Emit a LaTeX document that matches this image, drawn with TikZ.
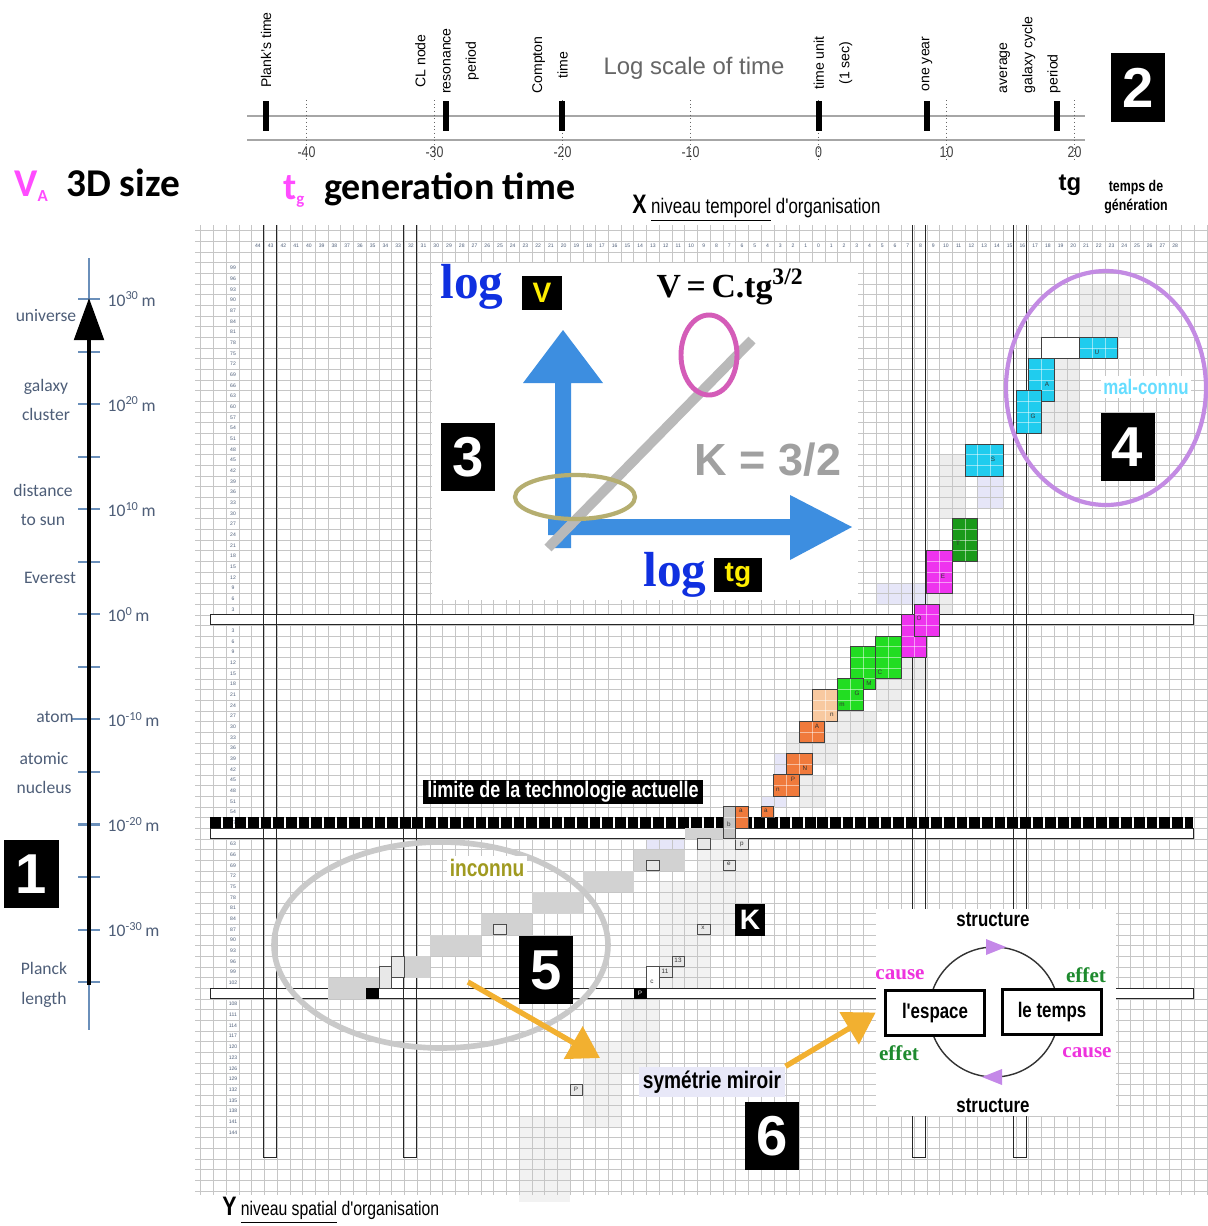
\documentclass[tikz,border=0pt]{standalone}
\usepackage{fontspec}
\setmainfont{Liberation Serif}
\setsansfont{Liberation Sans}
\newfontfamily\narrowsf[FakeStretch=0.8]{Liberation Sans}
\newfontfamily\calsf{Carlito}
\usetikzlibrary{arrows.meta,positioning,calc}

\definecolor{gridgray}{HTML}{C6C6C6}
\definecolor{axisblue}{HTML}{6A8FBA}
\definecolor{slate}{HTML}{4E5E78}
\definecolor{arrowblue}{HTML}{3D8EE0}
\definecolor{pinkish}{HTML}{FF4CFF}
\definecolor{cyanblk}{HTML}{20CCEE}
\definecolor{greenblk}{HTML}{22DD22}
\definecolor{darkgreen}{HTML}{1A9A1A}
\definecolor{magblk}{HTML}{EE33EE}
\definecolor{orangeblk}{HTML}{F07A3C}
\definecolor{peachblk}{HTML}{F8C9A0}
\definecolor{shade}{HTML}{EDEDED}
\definecolor{faintshade}{HTML}{F2F2F2}
\definecolor{lavshade}{HTML}{E6E6F8}
\definecolor{stepgray}{HTML}{D2D2D2}
\definecolor{ringlav}{HTML}{C38BE3}
\definecolor{ringgray}{HTML}{C9C9C9}
\definecolor{ringmag}{HTML}{D45CB8}
\definecolor{ringolive}{HTML}{B5AE70}
\definecolor{amber}{HTML}{F2B030}
\definecolor{olivetext}{HTML}{A09A20}
\definecolor{maltext}{HTML}{66DDFF}
\definecolor{causemag}{HTML}{EE33DD}
\definecolor{effetgreen}{HTML}{1E8A2E}
\definecolor{cyclelav}{HTML}{C488E8}
\definecolor{mirrorbg}{HTML}{E8E8F8}
\definecolor{logblue}{HTML}{1030E0}
\definecolor{varyellow}{HTML}{FFEE00}
\definecolor{kgray}{HTML}{A0A0A0}

% one rectangle of cells of the grid: column k, row m, number of columns, rows
\newcommand{\cellrect}[5][]{%
  \path[#1] ({812.13+12.74*(#2)},{262.67+10.67*(#3)}) rectangle ++({12.74*(#4)},{10.67*(#5)});}
% coloured block with its cell lines
\newcommand{\cellblock}[5]{%
  \cellrect[fill=#1]{#2}{#3}{#4}{#5}
  \foreach \ci in {1,...,#4}{\draw[cellsep] ({812.13+12.74*(#2+\ci)},{262.67+10.67*(#3)}) -- ++(0,{10.67*(#5)});}
  \foreach \cj in {1,...,#5}{\draw[cellsep] ({812.13+12.74*(#2)},{262.67+10.67*(#3+\cj)}) -- ++({12.74*(#4)},0);}
  \cellrect[draw=black!75,line width=0.6pt]{#2}{#3}{#4}{#5}}

\begin{document}
\begin{tikzpicture}[x=0.025cm,y=-0.025cm,
    numbox/.style={fill=black,text=white,inner sep=0pt,minimum width=1.35cm,minimum height=1.7cm,
                   font=\sffamily\bfseries\fontsize{40}{40}\selectfont},
    rotlab/.style={rotate=90,align=center,inner sep=1pt,font=\sffamily\fontsize{10}{18}\selectfont},
    timeline/.style={black!35,line width=1.1pt},
    timebar/.style={line width=3.6pt},
    timedot/.style={black!60,dotted,line width=0.6pt},
    ticklab/.style={font=\narrowsf\fontsize{11}{12}\selectfont,text=black!75},
    axtick/.style={axisblue,line width=1.5pt},
    unitlab/.style={anchor=west,inner sep=1pt,font=\calsf\fontsize{12.5}{14}\selectfont,text=slate},
    objlab/.style={align=center,inner sep=1pt,font=\calsf\fontsize{12.5}{21}\selectfont,text=slate},
    gridline/.style={gridgray,line width=0.4pt},
    gridnum/.style={inner sep=0pt,font=\sffamily\fontsize{3.6}{4}\selectfont,text=slate},
    bandline/.style={black!85,line width=0.7pt},
    cellsep/.style={white,opacity=0.5,line width=0.5pt},
    smallcell/.style={draw=black!70,line width=0.6pt,fill=stepgray!50},
    blocklab/.style={inner sep=0pt,font=\sffamily\fontsize{4.5}{5}\selectfont,text=black!80},
    ring/.style={line width=3.5pt},
    amberarr/.style={amber,line width=3.8pt,-{Triangle[length=22pt,width=26pt]}},
    placebox/.style={draw=black,line width=2pt,fill=white,minimum width=2.47cm,minimum height=1.12cm,
                     font=\narrowsf\bfseries\fontsize{15}{15}\selectfont},
    causelab/.style={font=\rmfamily\bfseries\fontsize{15}{15}\selectfont,text=causemag,inner sep=1pt},
    effetlab/.style={font=\rmfamily\bfseries\fontsize{15}{15}\selectfont,text=effetgreen,inner sep=1pt},
    structlab/.style={font=\narrowsf\bfseries\fontsize{15}{15}\selectfont,inner sep=1pt},
    logword/.style={font=\rmfamily\bfseries\fontsize{35}{35}\selectfont,text=logblue,inner sep=0pt},
    varbox/.style={fill=black,text=varyellow,inner sep=0pt,font=\sffamily\bfseries\fontsize{20}{20}\selectfont}
]
\useasboundingbox (0,0) rectangle (1208,1226);
\fill[white] (0,0) rectangle (1208,1226);

%% log scale of time
\draw[timeline] (247,116) -- (1085,116);
\draw[timeline] (247,140) -- (1085,140);
\foreach \t/\lab in {-4/-40,-3/-30,-2/-20,-1/-10,0/0,1/10,2/20}{
  \draw[timedot] ({818.5+128*\t},100) -- ({818.5+128*\t},162);
  \node[ticklab] (tick\t) at ({818.5+128*\t},152) {\lab};
}
\foreach \bx in {266,446,562,819,927,1057} \draw[timebar] (\bx,101) -- (\bx,131);
\node[rotlab] (plank) at (266,50) {Plank's time};
\node[rotlab] (clnode) at (447,61) {CL node\\resonance\\period};
\node[rotlab] (compton) at (550,65) {Compton\\time};
\node[rotlab] (timeunit) at (833,63) {time unit\\(1 sec)};
\node[rotlab] (oneyear) at (927,64) {one year};
\node[rotlab,align=left,anchor=west] (galaxy) at (1030,95) {average\\galaxy cycle\\period};
\node[font=\sffamily\fontsize{17}{17}\selectfont,text=black!60] (logscale) at (694,68) {Log scale of time};
\node[numbox] (nb2) at (1138,87.5) {2};

%% headings
\node[anchor=west,inner sep=0pt,font=\calsf\bfseries\fontsize{28}{28}\selectfont] (vsize) at (14,185)
  {\textcolor{pinkish}{V\textsubscript{\fontsize{12}{12}\selectfont A}}\hspace{0.45em}3D size};
\node[anchor=west,inner sep=0pt,font=\calsf\bfseries\fontsize{27}{27}\selectfont] (tgen) at (283,190)
  {\textcolor{pinkish}{t\textsubscript{\fontsize{12}{12}\selectfont g}}\hspace{0.5em}generation time};
\node[anchor=west,inner sep=0pt,font=\narrowsf\fontsize{15}{15}\selectfont] (xlabel) at (632,208)
  {{\bfseries\fontsize{19}{19}\selectfont X}\ \underline{niveau temporel} d'organisation};
\node[font=\sffamily\bfseries\fontsize{17}{17}\selectfont] (tglab) at (1070,185) {tg};
\node[align=center,font=\narrowsf\bfseries\fontsize{11}{14}\selectfont] (tempsgen) at (1136,197) {temps de\\génération};

%% size axis
\draw[axisblue,line width=1pt] (89,258) -- (89,1030);
\foreach \i in {0,...,13} \draw[axtick] (78,{299+52.55*\i}) -- (100,{299+52.55*\i});
\draw[axtick] (72,719) -- (78,719);
\draw[line width=2.8pt,-{Triangle[length=30pt,width=21pt]}] (89,985) -- (89,298);
\foreach \i/\e in {0/30,2/20,4/10,6/0,8/-10,10/-20,12/-30}
  \node[unitlab] (unit\i) at (106,{299+52.55*\i}) {10\textsuperscript{\e}\,m};
\node[objlab] (universe) at (46,316) {universe};
\node[objlab] (galaxycl) at (46,400) {galaxy\\cluster};
\node[objlab] (sundist) at (43,505) {distance\\to sun};
\node[objlab] (everest) at (50,578) {Everest};
\node[objlab] (atom) at (55,717) {atom};
\node[objlab] (nucleus) at (44,773) {atomic\\nucleus};
\node[objlab] (planck) at (44,985) {Planck\\length};
\node[numbox] (nb1) at (31.5,874) {1};

%% shading along the diagonal
\cellrect[fill=shade]{21}{2}{4}{5}
\cellrect[fill=shade]{18}{9}{3}{7}
\cellrect[fill=lavshade]{13}{20}{2}{3}
\cellrect[fill=shade]{10}{18}{2}{6}
\cellrect[fill=shade]{9}{31}{2}{3}
\cellrect[fill=lavshade]{5}{30}{4}{2}
\cellrect[fill=shade]{7}{37}{2}{3}
\cellrect[fill=shade]{5}{39}{2}{3}
\cellrect[fill=shade]{2}{42}{3}{3}
\cellrect[fill=shade]{0}{43}{2}{4}
\cellrect[fill=shade]{-2}{44}{2}{2}
\cellrect[fill=lavshade]{-3}{46}{1}{2}
\cellrect[fill=shade]{-1}{48}{2}{3}
\cellrect[fill=lavshade]{-4}{50}{2}{1}
\cellrect[fill=faintshade]{-9}{54}{4}{9}
\cellrect[fill=faintshade]{-12}{58}{4}{10}
\cellrect[fill=lavshade]{-13}{54}{3}{1}
\cellrect[fill=faintshade]{-15}{68}{3}{8}
\cellrect[fill=faintshade]{-18}{73}{3}{8}
\cellrect[fill=faintshade]{-23}{80}{4}{8}

%% grid
\begin{scope}
\clip (195,225) rectangle (1208,1195);
\foreach \k in {-50,...,31} \draw[gridline] ({812.13+12.74*\k},225) -- ++(0,970);
\foreach \m in {-4,...,87} \draw[gridline] (195,{262.67+10.67*\m}) -- ++(1013,0);
\end{scope}
\foreach \k [evaluate=\k as \lab using int(abs(\k))] in {-44,...,28}
  \node[gridnum] (cn\k) at ({818.5+12.74*\k},246) {\lab};
\foreach \n [evaluate=\n as \lab using int(abs(99-3*\n))] in {0,...,81}
  \node[gridnum] (rn\n) at (233,{268+10.67*\n}) {\lab};

%% limits of the grid
\foreach \ya in {614,828,988} \draw[bandline,fill=white] (210,\ya) rectangle (1193,\ya+10);
\foreach \xa in {263,403,912,1013} \draw[bandline] (\xa,225) -- (\xa,1157) -- ({\xa+13},1157) -- ({\xa+13},225);
\draw[line width=7.5pt,dash pattern=on 7.6pt off 1.4pt] (210,822.5) -- (1193,822.5);

%% steps below the limit
\cellrect[fill=stepgray]{-10}{53}{3}{1}
\cellrect[fill=stepgray]{-14}{55}{4}{2}
\cellrect[fill=stepgray]{-18}{57}{4}{2}
\cellrect[fill=stepgray]{-22}{59}{4}{2}
\cellrect[fill=stepgray]{-26}{61}{4}{2}
\cellrect[fill=stepgray]{-30}{63}{4}{2}
\cellrect[fill=stepgray]{-33}{65}{3}{2}
\cellrect[fill=stepgray]{-38}{67}{4}{2}
\cellrect[smallcell]{-34}{66}{1}{2}
\cellrect[smallcell]{-33}{65}{1}{2}
\cellrect[fill=black]{-35}{68}{1}{1}
\foreach \k/\m in {-9/54,-13/56,-25/62,-6/54,-7/56,-9/62,-11/65,-12/66,-19/77}{
  \cellrect[smallcell]{\k}{\m}{1}{1}
}
\cellrect[smallcell,fill=white]{-13}{66}{1}{2}
\cellrect[fill=black]{-14}{68}{1}{1}

%% coloured blocks
\cellblock{darkgreen}{11}{24}{2}{4}
\cellblock{magblk}{9}{27}{2}{4}
\cellblock{magblk}{7}{33}{2}{4}
\cellblock{magblk}{8}{32}{2}{3}
\cellblock{greenblk}{5}{35}{2}{4}
\cellblock{greenblk}{3}{36}{2}{4}
\cellblock{greenblk}{2}{39}{2}{3}
\cellblock{peachblk}{0}{40}{2}{3}
\cellblock{orangeblk}{-1}{43}{2}{2}
\cellblock{orangeblk}{-2}{46}{2}{2}
\cellblock{orangeblk}{-3}{48}{2}{2}
\cellblock{orangeblk}{-6}{51}{1}{2}
\cellblock{orangeblk}{-4}{51}{1}{1}
\cellblock{gray!45}{-7}{51}{1}{3}
\cellblock{white}{18}{7}{3}{2}
\cellblock{cyanblk}{21}{7}{3}{2}
\cellblock{cyanblk}{17}{9}{2}{4}
\cellblock{cyanblk}{16}{12}{2}{4}
\cellblock{cyanblk}{12}{17}{3}{3}

\node[blocklab] (lblT) at (958,543) {T};
\node[blocklab] (lblE) at (943,576) {E};
\node[blocklab] (lblO) at (919,618) {O};
\node[blocklab] (lblC) at (880,672) {C};
\node[blocklab] (lblM) at (869,683) {M};
\node[blocklab] (lblG) at (857,693) {G};
\node[blocklab] (lblm) at (842,705) {m};
\node[blocklab] (lbln) at (832,715) {n};
\node[blocklab] (lblA) at (817,726) {A};
\node[blocklab] (lblN) at (805,768) {N};
\node[blocklab] (lblP) at (793,779) {P};
\node[blocklab] (lbln2) at (778,790) {n};
\node[blocklab] (lbla) at (741,811) {a};
\node[blocklab] (lbla2) at (766,811) {a};
\node[blocklab] (lblb) at (729,824) {b};
\node[blocklab] (lblU) at (1097,352) {U};
\node[blocklab] (lblA2) at (1047,384) {A};
\node[blocklab] (lblG2) at (1033,416) {G};
\node[blocklab] (lblS) at (993,459) {S};
\node[blocklab] (lblp) at (742,844) {p};
\node[blocklab] (lble) at (729,864) {e};
\node[blocklab] (lblx) at (703,928) {x};
\node[blocklab] (lbl13) at (678,960) {13};
\node[blocklab] (lbl11) at (665,971) {11};
\node[blocklab] (lblc) at (652,982) {c};
\node[blocklab,text=white] (lblPb) at (640,993) {P};
\node[blocklab] (lblP2) at (576,1089) {P};

%% inset 3: log V against log tg
\fill[white] (432,263) rectangle (858,600);
\fill[arrowblue] (555,548) -- (555,383) -- (523,383) -- (563,330) -- (603,383) -- (571,383) -- (571,548) -- cycle;
\fill[arrowblue] (548,519) -- (790,519) -- (790,495) -- (852,527) -- (790,560) -- (790,535) -- (548,535) -- cycle;
\draw[gray!55,line width=7pt] (548,548) -- (752,340);
\draw[ring,ringmag] (709,355) ellipse [x radius=28,y radius=40];
\draw[ring,ringolive,line width=3pt] (575,497) ellipse [x radius=60,y radius=22];
\node[logword] (logv) at (472,287) {log};
\node[varbox,minimum width=1.02cm,minimum height=0.87cm] (vbox) at (542,293) {V};
\node[font=\rmfamily\bfseries\fontsize{24}{24}\selectfont] (powerlaw) at (730,287) {V\,=\,C.tg\textsuperscript{3/2}};
\node[font=\sffamily\bfseries\fontsize{32}{32}\selectfont,text=kgray] (kval) at (768,460) {K = 3/2};
\node[logword] (logtg) at (675,575) {log};
\node[varbox,minimum width=1.2cm,minimum height=0.85cm] (tgbox) at (738,575) {tg};
\node[numbox] (nb3) at (468,457) {3};

%% zone 4: badly known
\draw[ring,ringlav,line width=3pt] (1106,388) ellipse [x radius=100,y radius=117];
\node[font=\narrowsf\bfseries\fontsize{15}{15}\selectfont,text=maltext,fill=white,inner sep=2pt] (malconnu) at (1146,387) {mal-connu};
\node[numbox] (nb4) at (1127.5,447) {4};

%% limit of technology and zone 5: unknown
\node[fill=black,text=white,font=\narrowsf\bfseries\fontsize{16}{16}\selectfont,minimum width=6.98cm,
      minimum height=0.62cm,inner sep=0pt] (limit) at (563,792) {limite de la technologie actuelle};
\draw[ring,ringgray,line width=4pt] (441,945) ellipse [x radius=167,y radius=103];
\node[font=\narrowsf\bfseries\fontsize{17}{17}\selectfont,text=olivetext,fill=white,inner sep=2pt] (inconnu) at (487,868) {inconnu};
\node[fill=black,text=white,font=\sffamily\bfseries\fontsize{20}{20}\selectfont,minimum width=0.73cm,
      minimum height=0.8cm,inner sep=0pt] (kbox) at (750,920) {K};
\node[numbox] (nb5) at (546,970) {5};

%% zone 6: space and time
\node[fill=white,minimum width=6cm,minimum height=5.18cm,inner sep=0pt] (cyclebox) at (996,1012.5) {};
\draw[black!80,line width=1pt] (994,1012) circle [radius=65];
\fill[cyclelav] (1006,947) -- (986,939) -- (986,955) -- cycle;
\fill[cyclelav] (982,1077) -- (1002,1069) -- (1002,1085) -- cycle;
\node[placebox] (espace) at (935,1013) {l'espace};
\node[placebox] (temps) at (1052,1012) {le temps};
\node[structlab] (structtop) at (993,920) {structure};
\node[structlab] (structbot) at (993,1106) {structure};
\node[causelab] (causetop) at (900,975) {cause};
\node[effetlab] (effettop) at (1086,975) {effet};
\node[effetlab] (effetbot) at (899,1053) {effet};
\node[causelab] (causebot) at (1087,1053) {cause};

\node[fill=mirrorbg,font=\narrowsf\bfseries\fontsize{17}{17}\selectfont,inner sep=3pt] (mirror) at (712,1082) {symétrie miroir};
\node[numbox] (nb6) at (772,1136) {6};
\coordinate (fromfive) at (468,982);
\coordinate (tomirror) at (600,1058);
\draw[amberarr] (fromfive) -- (tomirror);
\draw[amberarr] (mirror.north east) -- (cyclebox.west);

\node[anchor=west,inner sep=0pt,font=\narrowsf\fontsize{14}{14}\selectfont] (ylabel) at (222,1210)
  {{\bfseries\fontsize{19}{19}\selectfont Y}\ \underline{niveau spatial} d'organisation};
\end{tikzpicture}
\end{document}
